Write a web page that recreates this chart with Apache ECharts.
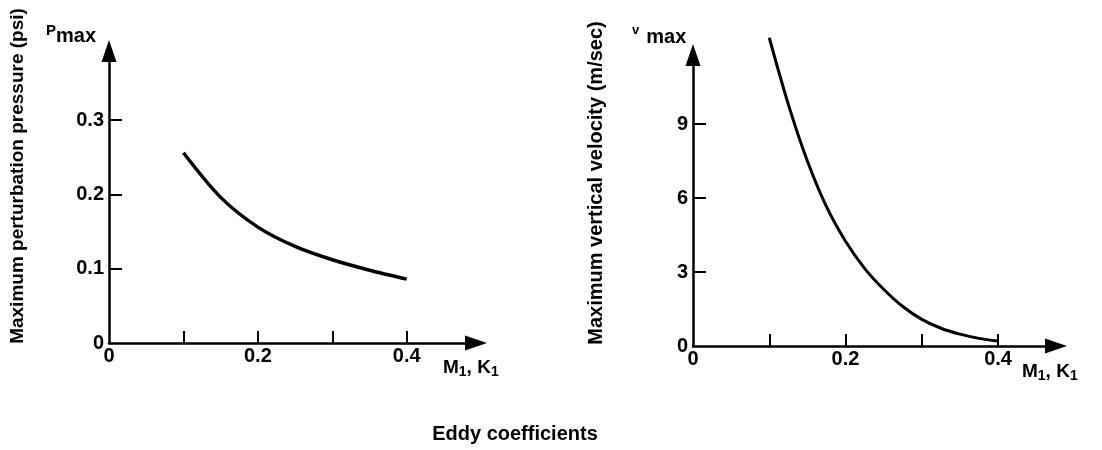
<!DOCTYPE html>
<html>
<head>
<meta charset="utf-8">
<script src="https://cdn.jsdelivr.net/npm/echarts@6/dist/echarts.min.js"></script>
<style>
html,body{margin:0;padding:0;background:#fff;}
#chart{width:1102px;height:450px;}
</style>
</head>
<body>
<div id="chart"></div>
<script>
// ---- data ----
const pressureX = [0.1, 0.15, 0.2, 0.25, 0.3, 0.35, 0.4];
const pressureY = [0.256, 0.196, 0.156, 0.13, 0.112, 0.098, 0.086];
const velocityX = [0.1, 0.125, 0.15, 0.175, 0.2, 0.225, 0.25, 0.275, 0.3, 0.325, 0.35, 0.375, 0.4];
const velocityY = [12.5, 9.8, 7.5, 5.65, 4.25, 3.15, 2.3, 1.6, 1.08, 0.72, 0.48, 0.31, 0.2];
const xTicks = [0.1, 0.2, 0.3, 0.4];
const xLabels = [0, 0.2, 0.4];
const pTicks = [0.1, 0.2, 0.3];
const pLabels = [0, 0.1, 0.2, 0.3];
const vTicks = [3, 6, 9];
const vLabels = [0, 3, 6, 9];
const leftTitle = 'Maximum perturbation pressure (psi)';
const rightTitle = 'Maximum vertical velocity (m/sec)';
const bottomTitle = 'Eddy coefficients';

const FONT = 'Liberation Sans';
const labelStyle = {color:'#000', fontFamily:FONT, fontWeight:'bold', fontSize:20};
const axisLineStyle = {show:true, onZero:false, symbol:['none','triangle'], symbolSize:[15,22], lineStyle:{color:'#000', width:2.5}};

function xAxisDef(grid, max){
  return {type:'value', gridIndex:grid, min:0, max:max,
    axisLine: axisLineStyle,
    axisTick:{show:true, inside:true, length:12, customValues:xTicks, lineStyle:{color:'#000', width:2}},
    axisLabel:Object.assign({customValues:xLabels, margin:3}, labelStyle),
    splitLine:{show:false}};
}
function yAxisDef(grid, max, ticks, labels){
  return {type:'value', gridIndex:grid, min:0, max:max,
    axisLine: axisLineStyle,
    axisTick:{show:true, inside:true, length:13, customValues:ticks, lineStyle:{color:'#000', width:2}},
    axisLabel:Object.assign({customValues:labels, margin:5}, labelStyle),
    splitLine:{show:false}};
}
function sub(x, y, text, big, small){
  return {type:'text', x:x, y:y,
    style:{text:text, fill:'#000', fontFamily:FONT, fontWeight:'bold',
      rich:{n:{fontSize:big, lineHeight:22, verticalAlign:'middle', fontWeight:'bold', fontFamily:FONT, fill:'#000'},
            s:{fontSize:small, lineHeight:12, verticalAlign:'bottom', fontWeight:'bold', fontFamily:FONT, fill:'#000'}}}};
}

const chart = echarts.init(document.getElementById('chart'));
chart.setOption({
  backgroundColor:'#fff',
  animation:false,
  grid:[
    {left:109, top:51, width:367, height:292},
    {left:693, top:55, width:363, height:291}
  ],
  xAxis:[xAxisDef(0, 0.493), xAxisDef(1, 0.476)],
  yAxis:[yAxisDef(0, 0.393, pTicks, pLabels), yAxisDef(1, 11.8, vTicks, vLabels)],
  series:[
    {type:'line', xAxisIndex:0, yAxisIndex:0, smooth:0.3, showSymbol:false, clip:false,
     lineStyle:{color:'#000', width:3.5},
     data: pressureX.map((x,i)=>[x, pressureY[i]])},
    {type:'line', xAxisIndex:1, yAxisIndex:1, smooth:0.3, showSymbol:false, clip:false,
     lineStyle:{color:'#000', width:3},
     data: velocityX.map((x,i)=>[x, velocityY[i]])}
  ],
  graphic:[
    {type:'text', x:18, y:176, rotation:Math.PI/2,
     style:{text:leftTitle, fill:'#000', font:'bold 19px "Liberation Sans"', textAlign:'center', textVerticalAlign:'middle'}},
    {type:'text', x:596, y:183, rotation:Math.PI/2,
     style:{text:rightTitle, fill:'#000', font:'bold 20px "Liberation Sans"', textAlign:'center', textVerticalAlign:'middle'}},
    {type:'text', x:515, y:434,
     style:{text:bottomTitle, fill:'#000', font:'bold 20px "Liberation Sans"', textAlign:'center', textVerticalAlign:'middle'}},
    {type:'text', x:46, y:23,
     style:{text:'{p|P}{m|max}', fill:'#000', fontFamily:FONT, fontWeight:'bold',
       rich:{p:{fontSize:15, lineHeight:12, verticalAlign:'top', fontWeight:'bold', fontFamily:FONT, fill:'#000'},
             m:{fontSize:20, lineHeight:26, verticalAlign:'middle', fontWeight:'bold', fontFamily:FONT, fill:'#000'}}}},
    {type:'text', x:632, y:24,
     style:{text:'{p|v}{m|max}', fill:'#000', fontFamily:FONT, fontWeight:'bold',
       rich:{p:{fontSize:13, lineHeight:10, verticalAlign:'top', fontWeight:'bold', fontFamily:FONT, fill:'#000', padding:[0,7,0,0]},
             m:{fontSize:20, lineHeight:26, verticalAlign:'middle', fontWeight:'bold', fontFamily:FONT, fill:'#000'}}}},
    sub(443, 357, '{n|M}{s|1}{n|, K}{s|1}', 19, 14),
    sub(1022, 361, '{n|M}{s|1}{n|, K}{s|1}', 19, 14)
  ]
});
</script>
</body>
</html>
